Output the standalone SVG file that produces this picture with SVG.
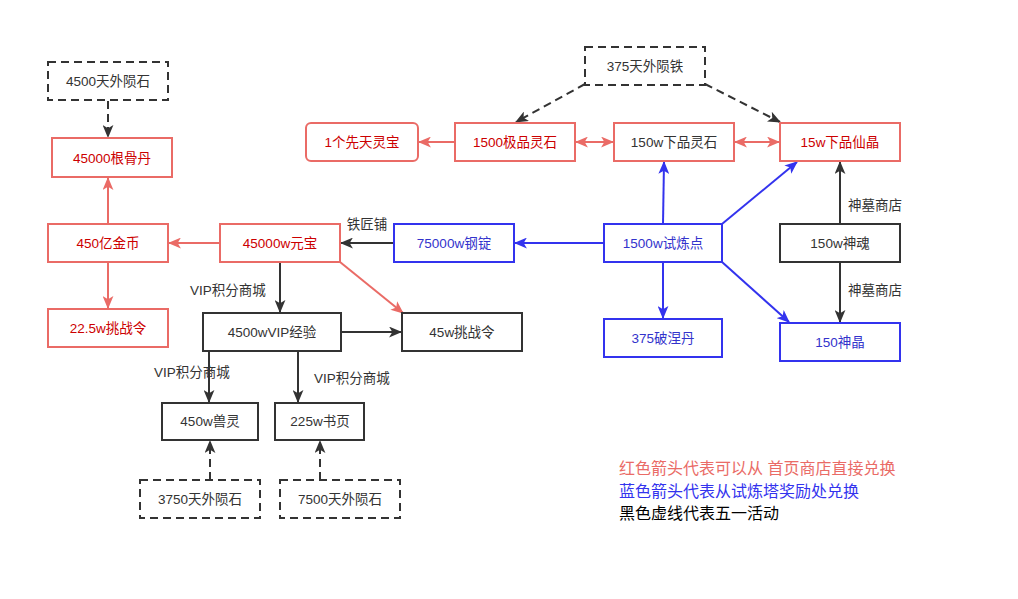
<svg xmlns="http://www.w3.org/2000/svg" width="1018" height="599" viewBox="0 0 1018 599">
<defs>
<style>
.box{fill:#fff;stroke-width:2}
.r{stroke:#ea6b66}
.b{stroke:#3333ee}
.k{stroke:#333}
.d{stroke:#333;stroke-dasharray:8 5}
text{font-family:"Liberation Sans","Noto Sans CJK SC",sans-serif;font-size:13.5px;text-anchor:middle;dominant-baseline:central}
.tr{fill:#cc0000}
.tb{fill:#3333cc}
.tk{fill:#333}
.lbl{fill:#333;font-size:13.5px}
.line{fill:none;stroke-width:2}
.leg{font-size:16px;text-anchor:start}
</style>
<marker id="ar" viewBox="0 0 12 10" refX="11" refY="5" markerWidth="13" markerHeight="11" orient="auto-start-reverse" markerUnits="userSpaceOnUse"><path d="M0,0 L12,5 L0,10 L3,5 z" fill="#ea6b66"/></marker>
<marker id="ab" viewBox="0 0 12 10" refX="11" refY="5" markerWidth="13" markerHeight="11" orient="auto" markerUnits="userSpaceOnUse"><path d="M0,0 L12,5 L0,10 L3,5 z" fill="#3333ee"/></marker>
<marker id="ak" viewBox="0 0 12 10" refX="11" refY="5" markerWidth="13" markerHeight="11" orient="auto" markerUnits="userSpaceOnUse"><path d="M0,0 L12,5 L0,10 L3,5 z" fill="#333"/></marker>
</defs>
<rect width="1018" height="599" fill="#fff"/>
<g id="connectors">
<line class="line d" x1="108" y1="101" x2="108" y2="137" marker-end="url(#ak)"/>
<line class="line r" x1="108" y1="224" x2="108" y2="178" marker-end="url(#ar)"/>
<line class="line r" x1="108" y1="262" x2="108" y2="308" marker-end="url(#ar)"/>
<line class="line r" x1="220" y1="243" x2="169" y2="243" marker-end="url(#ar)"/>
<line class="line k" x1="394" y1="243" x2="341" y2="243" marker-end="url(#ak)"/>
<line class="line b" x1="604" y1="243" x2="515" y2="243" marker-end="url(#ab)"/>
<line class="line k" x1="280" y1="262" x2="280" y2="312" marker-end="url(#ak)"/>
<line class="line r" x1="340" y1="262" x2="403" y2="313" marker-end="url(#ar)"/>
<line class="line k" x1="341" y1="332" x2="401" y2="332" marker-end="url(#ak)"/>
<line class="line k" x1="209" y1="351" x2="209" y2="402" marker-end="url(#ak)"/>
<line class="line k" x1="298" y1="351" x2="298" y2="402" marker-end="url(#ak)"/>
<line class="line d" x1="210" y1="480" x2="210" y2="441" marker-end="url(#ak)"/>
<line class="line d" x1="320" y1="480" x2="320" y2="441" marker-end="url(#ak)"/>
<line class="line d" x1="585" y1="84" x2="516" y2="122" marker-end="url(#ak)"/>
<line class="line d" x1="705" y1="84" x2="780" y2="122" marker-end="url(#ak)"/>
<line class="line r" x1="455" y1="142" x2="419" y2="142" marker-end="url(#ar)"/>
<line class="line r" x1="576" y1="142" x2="613" y2="142" marker-start="url(#ar)" marker-end="url(#ar)"/>
<line class="line r" x1="735" y1="142" x2="779" y2="142" marker-start="url(#ar)" marker-end="url(#ar)"/>
<line class="line b" x1="663" y1="224" x2="664" y2="162" marker-end="url(#ab)"/>
<line class="line b" x1="722" y1="224" x2="797" y2="162" marker-end="url(#ab)"/>
<line class="line b" x1="663" y1="262" x2="663" y2="318" marker-end="url(#ab)"/>
<line class="line b" x1="722" y1="262" x2="789" y2="322" marker-end="url(#ab)"/>
<line class="line k" x1="840" y1="224" x2="840" y2="162" marker-end="url(#ak)"/>
<line class="line k" x1="840" y1="262" x2="840" y2="322" marker-end="url(#ak)"/>
<text class="lbl" x="367" y="224">铁匠铺</text>
<text class="lbl" x="228" y="290">VIP积分商城</text>
<text class="lbl" x="192" y="372">VIP积分商城</text>
<text class="lbl" x="352" y="378">VIP积分商城</text>
<text class="lbl" x="875" y="205">神墓商店</text>
<text class="lbl" x="875" y="290">神墓商店</text>
</g>
<g id="n1"><rect class="box d" x="48" y="62" width="120" height="38"/><text class="tk" x="108" y="81">4500天外陨石</text></g>
<g id="n2"><rect class="box r" x="52" y="138" width="120" height="39"/><text class="tr" x="112" y="158">45000根骨丹</text></g>
<g id="n3"><rect class="box r" x="48" y="224" width="120" height="38"/><text class="tr" x="108" y="243">450亿金币</text></g>
<g id="n4"><rect class="box r" x="48" y="309" width="120" height="38"/><text class="tr" x="108" y="328">22.5w挑战令</text></g>
<g id="n5"><rect class="box r" x="220" y="224" width="120" height="38"/><text class="tr" x="280" y="243">45000w元宝</text></g>
<g id="n6"><rect class="box b" x="394" y="224" width="120" height="38"/><text class="tb" x="454" y="243">75000w钢锭</text></g>
<g id="n7"><rect class="box b" x="604" y="224" width="118" height="38"/><text class="tb" x="663" y="243">1500w试炼点</text></g>
<g id="n8"><rect class="box b" x="604" y="319" width="118" height="38"/><text class="tb" x="663" y="338">375破涅丹</text></g>
<g id="n9"><rect class="box b" x="780" y="323" width="120" height="38"/><text class="tb" x="840" y="342">150神晶</text></g>
<g id="n10"><rect class="box k" x="780" y="224" width="120" height="38"/><text class="tk" x="840" y="243">150w神魂</text></g>
<g id="n11"><rect class="box r" x="780" y="123" width="120" height="38"/><text class="tr" x="840" y="142">15w下品仙晶</text></g>
<g id="n12"><rect class="box r" x="614" y="123" width="120" height="38"/><text class="tk" x="674" y="142">150w下品灵石</text></g>
<g id="n13"><rect class="box r" x="455" y="123" width="120" height="38"/><text class="tr" x="515" y="142">1500极品灵石</text></g>
<g id="n14"><rect class="box r" x="306" y="123" width="112" height="38" rx="5"/><text class="tr" x="362" y="142">1个先天灵宝</text></g>
<g id="n15"><rect class="box d" x="585" y="47" width="120" height="38"/><text class="tk" x="645" y="66">375天外陨铁</text></g>
<g id="n16"><rect class="box k" x="203" y="313" width="138" height="38"/><text class="tk" x="272" y="332">4500wVIP经验</text></g>
<g id="n17"><rect class="box k" x="402" y="313" width="120" height="38"/><text class="tk" x="462" y="332">45w挑战令</text></g>
<g id="n18"><rect class="box k" x="162" y="403" width="96" height="37"/><text class="tk" x="210" y="421">450w兽灵</text></g>
<g id="n19"><rect class="box k" x="275" y="403" width="89" height="37"/><text class="tk" x="320" y="421">225w书页</text></g>
<g id="n20"><rect class="box d" x="140" y="480" width="120" height="38"/><text class="tk" x="200" y="499">3750天外陨石</text></g>
<g id="n21"><rect class="box d" x="280" y="480" width="120" height="38"/><text class="tk" x="340" y="499">7500天外陨石</text></g>
<g id="legend">
<text class="leg" x="619" y="468" fill="#ea6b66">红色箭头代表可以从 首页商店直接兑换</text>
<text class="leg" x="619" y="491" fill="#3333ee">蓝色箭头代表从试炼塔奖励处兑换</text>
<text class="leg" x="619" y="513" fill="#000">黑色虚线代表五一活动</text>
</g>
</svg>
